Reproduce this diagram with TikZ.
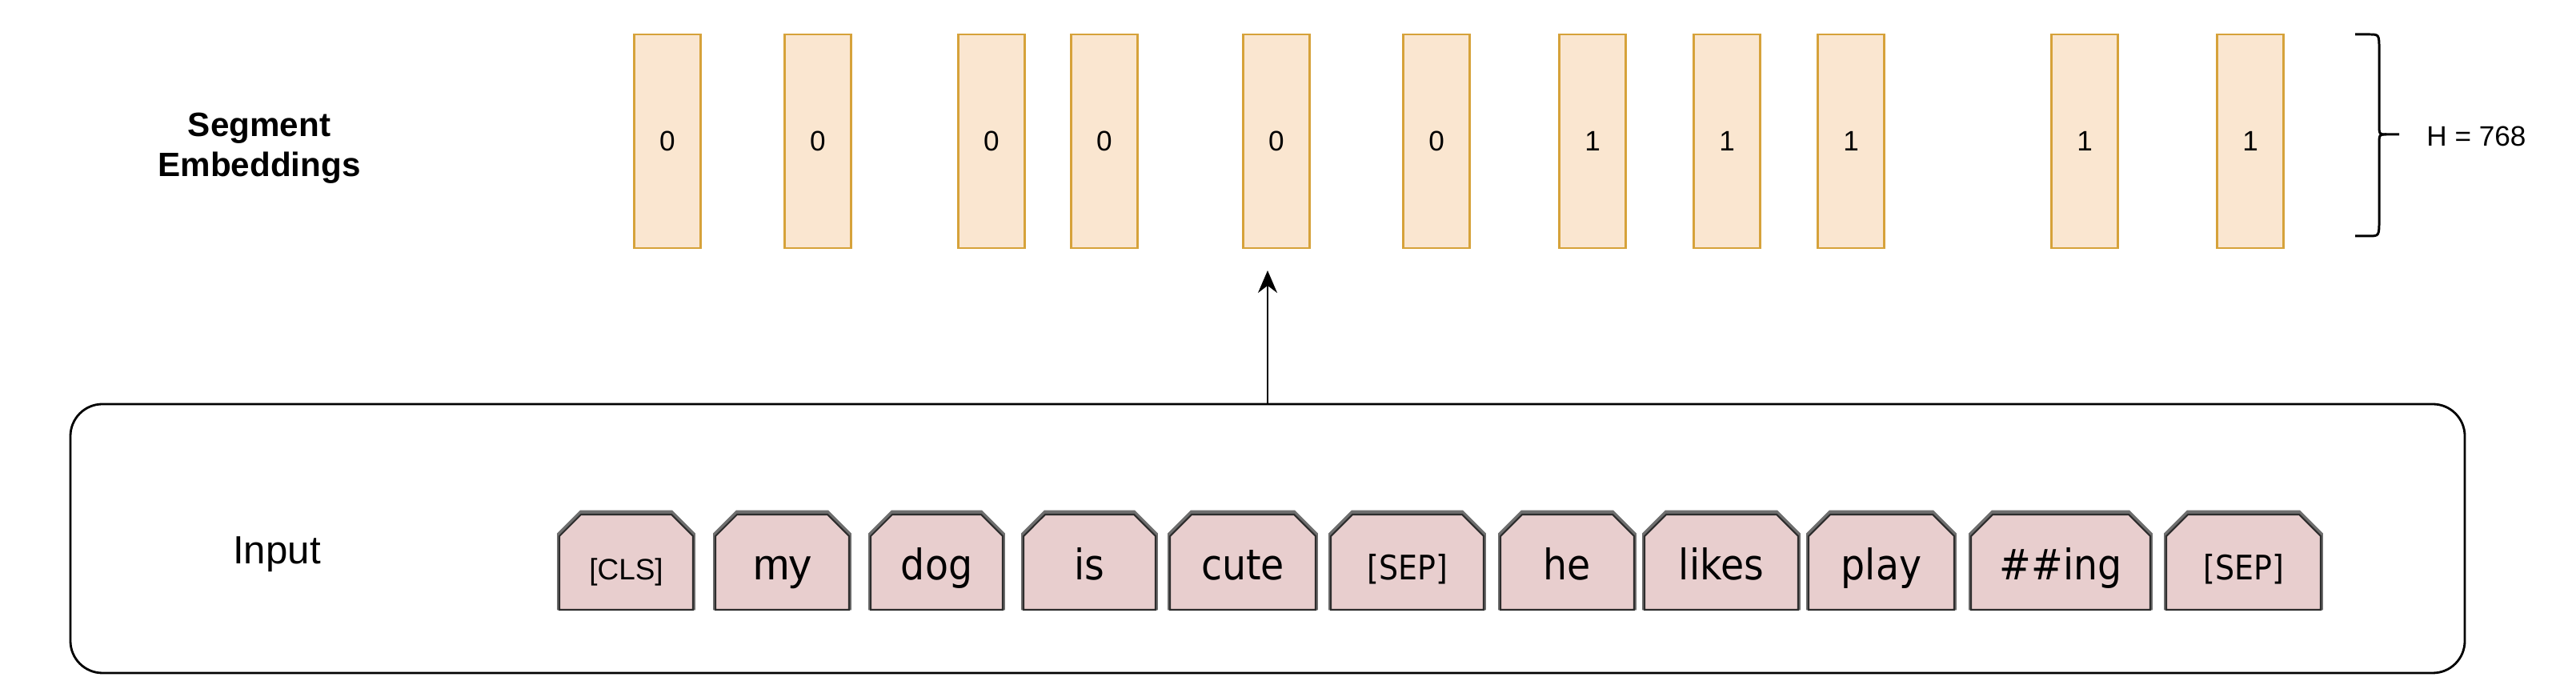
\documentclass[tikz,border=0pt]{standalone}
\usepackage{fontspec}
\usepackage{tikz}
\usetikzlibrary{arrows.meta,shapes.misc}
\setmainfont{Liberation Sans}
\newfontfamily\tokfont[FakeStretch=0.9]{DejaVu Sans}

\definecolor{barfill}{RGB}{250,230,208}
\definecolor{barline}{RGB}{214,162,58}
\definecolor{tokfill}{RGB}{232,206,206}
\definecolor{tokline}{RGB}{45,45,45}
\definecolor{tokshade}{RGB}{110,110,110}

\tikzset{
    segbar/.style={draw=barline, fill=barfill, line width=0.7pt, minimum width=0.83cm, minimum height=2.67cm, inner sep=0pt, font=\fontsize{10}{12}\selectfont},
    tokbox/.style={chamfered rectangle, chamfered rectangle corners={north west,north east}, chamfered rectangle xsep=0.17cm, chamfered rectangle ysep=0.10cm, draw=tokline, fill=tokfill, line width=0.6pt, minimum height=1.19cm, inner sep=0pt, text height=0.56cm, text depth=0.12cm, font=\tokfont\fontsize{15}{18}\selectfont, preaction={draw=tokshade, line width=1.6pt, transform canvas={yshift=0.7pt}}},
    smalltok/.style={font=\tokfont\fontsize{12}{14}\selectfont},
    helvtok/.style={font=\fontsize{15.5}{18}\selectfont}
}

\begin{document}
\begin{tikzpicture}[>={Stealth[length=2.8mm,width=2.4mm]}]
            \useasboundingbox (0, 0) rectangle (32.19, 8.61);

            % segment embeddings
            \node[font=\bfseries\fontsize{12}{14.3}\selectfont, align=center] (seglbl) at (3.24, 6.76) {Segment\\Embeddings};
            \node[segbar] (seg1) at (8.34, 6.845) {0};
            \node[segbar] (seg2) at (10.22, 6.845) {0};
            \node[segbar] (seg3) at (12.39, 6.845) {0};
            \node[segbar] (seg4) at (13.80, 6.845) {0};
            \node[segbar] (seg5) at (15.95, 6.845) {0};
            \node[segbar] (seg6) at (17.95, 6.845) {0};
            \node[segbar] (seg7) at (19.90, 6.845) {1};
            \node[segbar] (seg8) at (21.58, 6.845) {1};
            \node[segbar] (seg9) at (23.13, 6.845) {1};
            \node[segbar] (seg10) at (26.05, 6.845) {1};
            \node[segbar] (seg11) at (28.12, 6.845) {1};

            % brace and hidden size
            \draw[black, line width=0.85pt] (29.43, 8.18) -- (29.60, 8.18) .. controls (29.73, 8.18) .. (29.73, 7.99) -- (29.73, 7.06) .. controls (29.73, 6.93) .. (29.82, 6.93) -- (29.98, 6.93);
            \draw[black, line width=0.85pt] (29.82, 6.93) .. controls (29.73, 6.93) .. (29.73, 6.80) -- (29.73, 5.87) .. controls (29.73, 5.66) .. (29.60, 5.66) -- (29.43, 5.66);
            \node[anchor=west, font=\fontsize{10}{12}\selectfont] (hsize) at (30.20, 6.91) {H = 768};

            % input sequence
            \node[draw, line width=0.8pt, rounded corners=0.4cm, minimum width=29.92cm, minimum height=3.36cm] (inputbox) at (15.84, 1.88) {};
            \node[font=\fontsize{14}{16}\selectfont] (inputlbl) at (3.46, 1.68) {Input};
            \node[tokbox, helvtok, font=\fontsize{10.5}{12}\selectfont, minimum width=1.67cm] (cls) at (7.825, 1.585) {[CLS]};
            \node[tokbox, helvtok, minimum width=1.67cm] (my) at (9.775, 1.585) {my};
            \node[tokbox, minimum width=1.65cm] (dog) at (11.705, 1.585) {dog};
            \node[tokbox, minimum width=1.65cm] (is) at (13.615, 1.585) {is};
            \node[tokbox, minimum width=1.82cm] (cute) at (15.53, 1.585) {cute};
            \node[tokbox, smalltok, minimum width=1.91cm] (sepa) at (17.585, 1.585) {[SEP]};
            \node[tokbox, minimum width=1.67cm] (he) at (19.585, 1.585) {he};
            \node[tokbox, minimum width=1.92cm] (likes) at (21.51, 1.585) {likes};
            \node[tokbox, minimum width=1.82cm] (play) at (23.51, 1.585) {play};
            \node[tokbox, minimum width=2.24cm] (ing) at (25.75, 1.585) {\#\#ing};
            \node[tokbox, smalltok, minimum width=1.93cm] (sepb) at (28.035, 1.585) {[SEP]};

            \coordinate (segin) at (15.84, 5.23);
            \draw[black, line width=0.6pt, ->] (inputbox.north) -- (segin);
        \end{tikzpicture}
\end{document}
